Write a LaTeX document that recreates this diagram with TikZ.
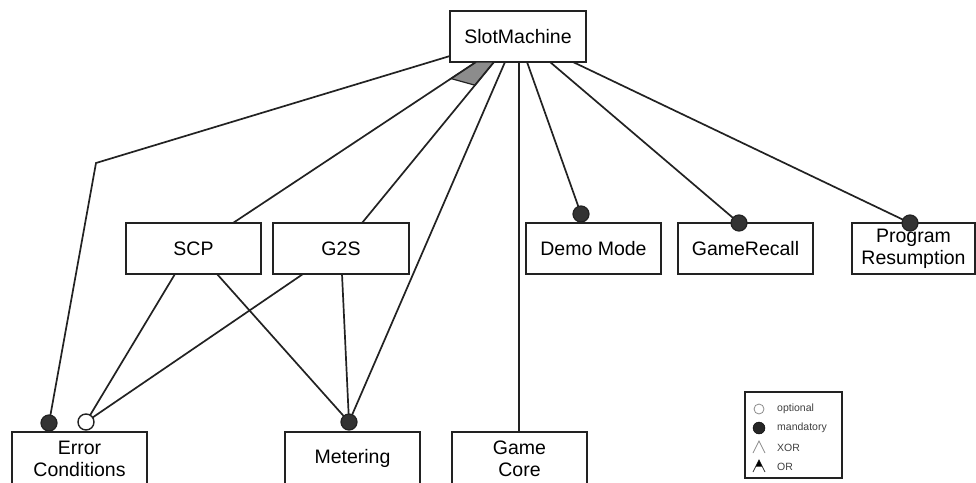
\documentclass[tikz,border=0pt]{standalone}
\usepackage{fontspec}
\setmainfont{Liberation Sans}
\usetikzlibrary{calc}
\definecolor{ln}{HTML}{222222}
\definecolor{dot}{HTML}{333333}
\definecolor{wedge}{HTML}{8C8C8C}
\tikzset{
  feat/.style={draw=ln, line width=1.7pt, fill=white, rectangle, minimum height=51pt, align=center, font=\fontsize{19.5}{22}\selectfont, inner sep=0pt},
  conn/.style={draw=ln, line width=1.7pt},
  mand/.style={circle, draw=ln, fill=dot, line width=1.2pt, minimum size=16pt, inner sep=0pt},
  opt/.style={circle, draw=ln, fill=white, line width=1.4pt, minimum size=16pt, inner sep=0pt},
  legtxt/.style={font=\fontsize{10.5}{12}\selectfont, text=black!75, anchor=west, inner sep=0pt},
}
\begin{document}
\begin{tikzpicture}[x=1pt,y=-1pt]
\useasboundingbox (0,0) rectangle (976,482);
\clip (0,0) rectangle (976,482);
\fill[white] (0,0) rectangle (976,482);
% nodes
\node[feat, minimum width=136pt] (SM) at (518,36.5) {SlotMachine};
\node[feat, minimum width=135pt] (SCP) at (193.5,248.5) {SCP};
\node[feat, minimum width=136pt] (G2S) at (341,248.5) {G2S};
\node[feat, minimum width=135pt] (DM) at (593.5,248.5) {Demo Mode};
\node[feat, minimum width=135pt] (GR) at (745.5,248.5) {GameRecall};
\node[feat, minimum width=123pt] (PR) at (913.5,248.5) {Program\\Resumption};
\node[feat, minimum width=135pt, minimum height=53pt] (EC) at (79.5,458.5) {Error\\Conditions};
\node[feat, minimum width=135pt, minimum height=53pt] (ME) at (352.5,458.5) {Metering};
\node[feat, minimum width=135pt, minimum height=53pt] (GC) at (519.5,458.5) {Game\\Core};
% attachment points
\coordinate (smL) at (450,56);
\coordinate (bend) at (96,163);
\coordinate (sm1) at (476,62);
\coordinate (sm2) at (494,62);
\coordinate (sm3) at (505,62);
\coordinate (sm4) at (519,62);
\coordinate (sm5) at (527,62);
\coordinate (sm6) at (550,62);
\coordinate (sm7) at (573,62);
\coordinate (scpT) at (233,223);
\coordinate (g2sT) at (362,223);
\coordinate (scpB1) at (175,274);
\coordinate (scpB2) at (217,274);
\coordinate (g2sB1) at (303,274);
\coordinate (g2sB2) at (342,274);
\coordinate (gcT) at (519,432);
% group wedge
\filldraw[fill=wedge, draw=ln, line width=1.2pt] (sm1) -- (sm2) -- ($(sm2)!30pt!(g2sT)$) -- ($(sm1)!30pt!(scpT)$) -- cycle;
% circle positions
\coordinate (cEC) at (49,423);
\coordinate (cECo) at (86,422);
\coordinate (cME) at (349,422);
\coordinate (cDM) at (581,214);
\coordinate (cGR) at (739,223);
\coordinate (cPR) at (910,223);
% connectors
\draw[conn] (smL) -- (bend) -- (cEC);
\draw[conn] (sm1) -- (scpT);
\draw[conn] (sm2) -- (g2sT);
\draw[conn] (sm3) -- (cME);
\draw[conn] (sm4) -- (gcT);
\draw[conn] (sm5) -- (cDM);
\draw[conn] (sm6) -- (cGR);
\draw[conn] (sm7) -- (cPR);
\draw[conn] (scpB1) -- (cECo);
\draw[conn] (g2sB1) -- (cECo);
\draw[conn] (scpB2) -- (cME);
\draw[conn] (g2sB2) -- (cME);
% circles on top
\node[mand] (nEC) at (cEC) {};
\node[opt] (nECo) at (cECo) {};
\node[mand] (nME) at (cME) {};
\node[mand] (nDM) at (cDM) {};
\node[mand] (nGR) at (cGR) {};
\node[mand] (nPR) at (cPR) {};
% legend
\node[draw=ln, line width=1.2pt, minimum width=97pt, minimum height=86pt, inner sep=0pt] (LG) at (793.5,435) {};
\node[circle, draw=black!45, line width=0.8pt, minimum size=10pt, inner sep=0pt] (l1) at (759,409) {};
\node[circle, draw=black, fill=black!85, minimum size=12pt, inner sep=0pt] (l2) at (759,428) {};
\draw[black!45, line width=0.8pt] (753,453) -- (759,441) -- (765,453);
\draw[black!80, line width=0.8pt] (753,472) -- (759,460) -- (765,472);
\fill[black] (755.8,466.5) -- (759,460) -- (762.2,466.5) -- cycle;
\node[legtxt] (t1) at (777,409) {optional};
\node[legtxt] (t2) at (777,428) {mandatory};
\node[legtxt] (t3) at (777,447.5) {XOR};
\node[legtxt] (t4) at (777,466.5) {OR};
\end{tikzpicture}
\end{document}
